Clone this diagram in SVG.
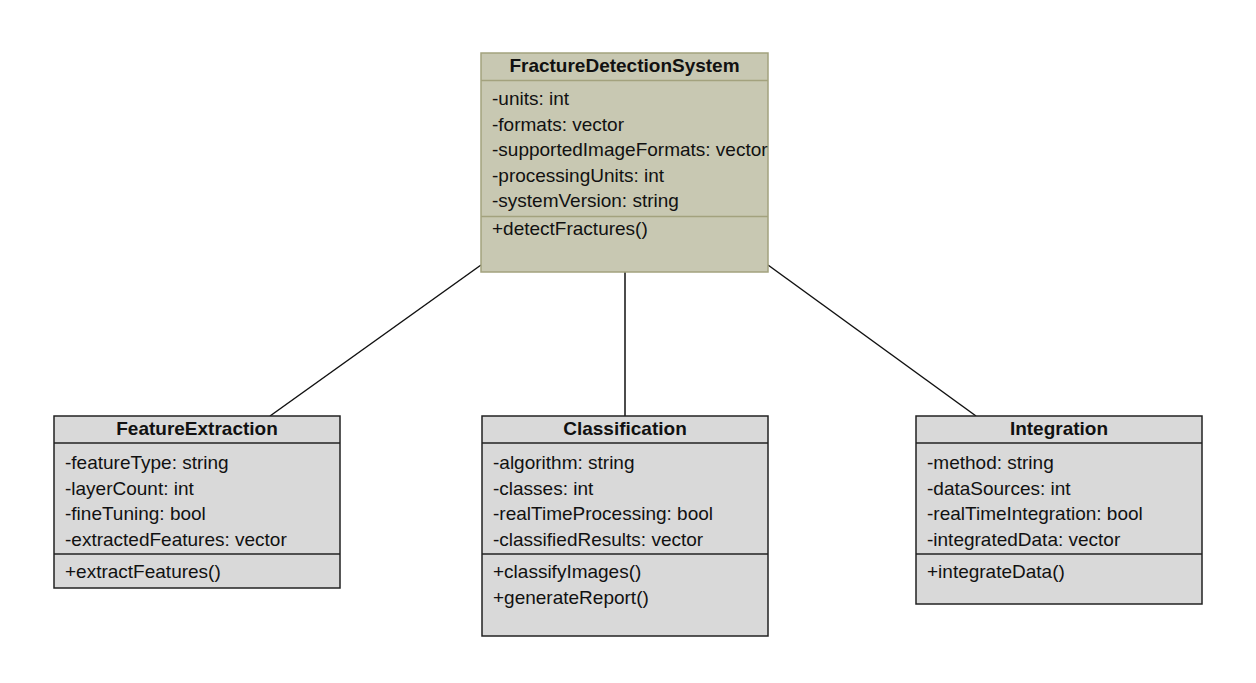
<svg xmlns="http://www.w3.org/2000/svg" width="1256" height="683" viewBox="0 0 1256 683">
<style>
text{font-family:"Liberation Sans",Arial,sans-serif;font-size:19px;fill:#111}
.t{font-weight:bold;text-anchor:middle}
.box{fill:#d9d9d9;stroke:#222;stroke-width:1.5}
.main{fill:#c8c8b2;stroke:#a3a27e;stroke-width:1.5}
.sep{stroke:#222;stroke-width:1.5}
.msep{stroke:#a3a27e;stroke-width:1.5}
.conn{stroke:#111;stroke-width:1.5;fill:none}
</style>
<rect width="1256" height="683" fill="#fff"/>
<g id="connectors">
<line class="conn" x1="481" y1="265" x2="270" y2="416"/>
<line class="conn" x1="625" y1="272" x2="625" y2="416"/>
<line class="conn" x1="768" y1="265" x2="976" y2="416"/>
</g>
<g id="FractureDetectionSystem">
<rect class="main" x="481" y="53" width="287" height="219"/>
<line class="msep" x1="481" y1="80.5" x2="768" y2="80.5"/>
<line class="msep" x1="481" y1="216.5" x2="768" y2="216.5"/>
<text class="t" x="624.5" y="72">FractureDetectionSystem</text>
<text x="492" y="105">-units: int</text>
<text x="492" y="130.5">-formats: vector</text>
<text x="492" y="156">-supportedImageFormats: vector</text>
<text x="492" y="181.5">-processingUnits: int</text>
<text x="492" y="207">-systemVersion: string</text>
<text x="492" y="235">+detectFractures()</text>
</g>
<g id="FeatureExtraction">
<rect class="box" x="54" y="416" width="286" height="172"/>
<line class="sep" x1="54" y1="443" x2="340" y2="443"/>
<line class="sep" x1="54" y1="554" x2="340" y2="554"/>
<text class="t" x="197" y="435">FeatureExtraction</text>
<text x="65" y="469">-featureType: string</text>
<text x="65" y="494.5">-layerCount: int</text>
<text x="65" y="520">-fineTuning: bool</text>
<text x="65" y="545.5">-extractedFeatures: vector</text>
<text x="65" y="578">+extractFeatures()</text>
</g>
<g id="Classification">
<rect class="box" x="482" y="416" width="286" height="220"/>
<line class="sep" x1="482" y1="443" x2="768" y2="443"/>
<line class="sep" x1="482" y1="554" x2="768" y2="554"/>
<text class="t" x="625" y="435">Classification</text>
<text x="493" y="469">-algorithm: string</text>
<text x="493" y="494.5">-classes: int</text>
<text x="493" y="520">-realTimeProcessing: bool</text>
<text x="493" y="545.5">-classifiedResults: vector</text>
<text x="493" y="578">+classifyImages()</text>
<text x="493" y="603.5">+generateReport()</text>
</g>
<g id="Integration">
<rect class="box" x="916" y="416" width="286" height="188"/>
<line class="sep" x1="916" y1="443" x2="1202" y2="443"/>
<line class="sep" x1="916" y1="554" x2="1202" y2="554"/>
<text class="t" x="1059" y="435">Integration</text>
<text x="927" y="469">-method: string</text>
<text x="927" y="494.5">-dataSources: int</text>
<text x="927" y="520">-realTimeIntegration: bool</text>
<text x="927" y="545.5">-integratedData: vector</text>
<text x="927" y="578">+integrateData()</text>
</g>
</svg>
